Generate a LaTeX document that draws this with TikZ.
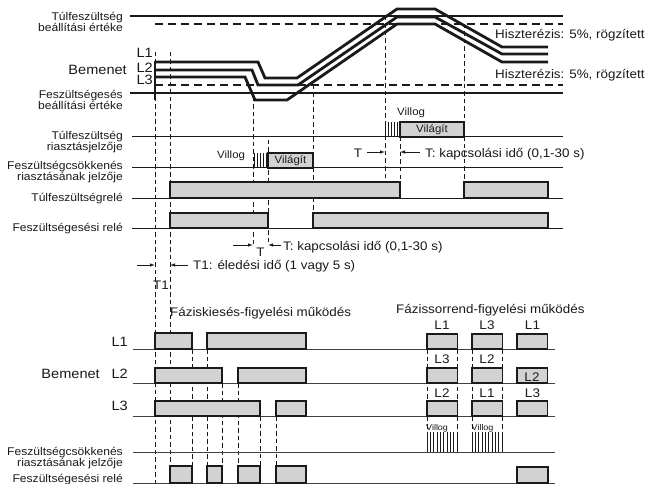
\documentclass[tikz,border=0pt]{standalone}
\usepackage{fontspec}
\setmainfont[FakeStretch=1.08]{Liberation Sans}
\usetikzlibrary{arrows.meta}
\definecolor{boxgray}{HTML}{D2D2D2}
\definecolor{ink}{HTML}{1A1A1A}
\newcommand\fsz[1]{\fontsize{#1}{#1}\selectfont}
\begin{document}
\begin{tikzpicture}[x=1pt,y=-1pt,
  thr/.style={ink, line width=1.8pt},
  thrdash/.style={ink, line width=1.1pt, dash pattern=on 8pt off 5pt},
  inp/.style={ink, line width=2.8pt, line join=miter, miter limit=6},
  vdash/.style={ink, line width=0.7pt, dash pattern=on 4.5pt off 3pt},
  sig/.style={ink, line width=1pt},
  sigb/.style={black!75, line width=0.9pt},
  pulse/.style={draw=ink, fill=boxgray, line width=1.3pt},
  tick/.style={ink, line width=0.8pt},
  lbl/.style={inner sep=0pt, font=\fsz{11.2}, text=ink},
  ann/.style={inner sep=0pt, font=\fsz{12.4}, text=ink},
  big/.style={inner sep=0pt, font=\fsz{13.5}, text=ink},
  colh/.style={inner sep=0pt, font=\fsz{12.5}, text=ink},
  small/.style={inner sep=0pt, font=\fsz{10.6}, text=ink},
  tiny/.style={inner sep=0pt, font=\fsz{8.3}, text=ink},
  arr/.style={ink, line width=0.8pt, -{Latex[length=5pt,width=3.5pt]}},
]
\fill[white] (0,0) rectangle (648,484);
\useasboundingbox (0,0) rectangle (648,484);

% ---------- vertical dashed time markers ----------
\draw[vdash] (155,52) -- (155,484);
\draw[vdash] (170,52) -- (170,483);
\draw[vdash] (253,97) -- (253,245);
\draw[vdash] (268,140) -- (268,245);
\draw[vdash] (313,85) -- (313,213);
\draw[vdash] (385,16) -- (385,182);
\draw[vdash] (400,137) -- (400,182);
\draw[vdash] (464,24) -- (464,182);
\foreach \x in {192,207} \draw[vdash] (\x,349) -- (\x,466);
\foreach \x in {222,238} \draw[vdash] (\x,383) -- (\x,466);
\foreach \x in {260,276} \draw[vdash] (\x,416) -- (\x,466);
\foreach \x in {427,457,472,502} \draw[vdash] (\x,349) -- (\x,452);

% ---------- thresholds ----------
\draw[thr] (130,16) -- (563,16);
\draw[thrdash] (155,24) -- (563,24);
\draw[thrdash] (155,85) -- (563,85);
\draw[thr] (130,93) -- (563,93);

% ---------- input voltages ----------
\draw[inp] (155,62) -- (258,62) -- (265,78) -- (297,78) -- (397,9) -- (435,9) -- (502,47) -- (548,47);
\draw[inp] (155,70) -- (252,70) -- (258,85) -- (298,85) -- (397,17) -- (435,17) -- (502,54) -- (548,54);
\draw[inp] (155,77) -- (245,77) -- (255,100) -- (287,100) -- (397,24) -- (435,24) -- (502,62) -- (548,62);
\draw[inp] (155,60.6) -- (155,100.5);

% ---------- signal lines (upper) ----------
\draw[sig] (132,137) -- (563,137);
\draw[sig] (132,168) -- (563,168);
\draw[sig] (132,198) -- (563,198);
\draw[sig] (132,228) -- (563,228);

% flashing + lit (undervoltage)
\foreach \x in {254,257,260,263,266} \draw[tick] (\x,153) -- (\x,168);
\draw[pulse] (268,168) rectangle (313,153);
\node[small] (vil1) at (290.5,161) {Világít};
\node[small, anchor=base west] (vlg1) at (217,158.3) {Villog};

% flashing + lit (overvoltage)
\foreach \x in {385.5,388.5,391.5,394.5,397.5} \draw[tick] (\x,122) -- (\x,137);
\draw[pulse] (400,137) rectangle (464,122);
\node[small] (vil2) at (432,130) {Világít};
\node[small, anchor=base west] (vlg2) at (397,116) {Villog};

% relays
\draw[pulse] (170,198) rectangle (400,182);
\draw[pulse] (464,198) rectangle (548,182);
\draw[pulse] (170,228) rectangle (268,213);
\draw[pulse] (313,228) rectangle (548,213);

% ---------- arrows ----------
\coordinate (ta1) at (233,245); \coordinate (ta2) at (253,245);
\coordinate (tb1) at (281,245); \coordinate (tb2) at (268,245);
\draw[arr] (ta1) -- (ta2);
\draw[arr] (tb1) -- (tb2);
\coordinate (t1a) at (137,265); \coordinate (t1b) at (155,265);
\coordinate (t1c) at (188,265); \coordinate (t1d) at (170,265);
\draw[arr] (t1a) -- (t1b);
\draw[arr] (t1c) -- (t1d);
\coordinate (tr1) at (367,152); \coordinate (tr2) at (385,152);
\coordinate (tr3) at (420,152); \coordinate (tr4) at (400,152);
\draw[arr] (tr1) -- (tr2);
\draw[arr] (tr3) -- (tr4);

% ---------- labels upper ----------
\node[lbl, anchor=base east] (tul1) at (123,20.7) {Túlfeszültség};
\node[lbl, anchor=base east] (tul2) at (123,31.7) {beállítási értéke};
\node[big, anchor=base east] (bem1) at (127,75) {Bemenet};
\node[big, anchor=base east] (la1) at (153,57.3) {L1};
\node[big, anchor=base east] (la2) at (153,72.5) {L2};
\node[big, anchor=base east] (la3) at (153,85) {L3};
\node[lbl, anchor=base east] (fes1) at (123,98.3) {Feszültségesés};
\node[lbl, anchor=base east] (fes2) at (123,109.3) {beállítási értéke};
\node[ann, anchor=base west] (hy1) at (495,38.7) {Hiszterézis: 5\%, rögzített};
\node[ann, anchor=base west] (hy2) at (495,78.7) {Hiszterézis: 5\%, rögzített};

\node[lbl, anchor=base east] (ta) at (123,140) {Túlfeszültség};
\node[lbl, anchor=base east] (tb) at (123,150.7) {riasztásjelzője};
\node[lbl, anchor=base east] (fa) at (123,170) {Feszültségcsökkenés};
\node[lbl, anchor=base east] (fb) at (123,180.7) {riasztásának jelzője};
\node[lbl, anchor=base east] (tr) at (123,201.5) {Túlfeszültségrelé};
\node[lbl, anchor=base east] (fr) at (123,231) {Feszültségesési relé};

\node[ann, anchor=base] (tlab2) at (358,157.3) {T};
\node[ann, anchor=base west] (ttxt2) at (425,157.3) {T: kapcsolási idő (0,1-30 s)};
\node[ann, anchor=base] (tlab1) at (260.5,256.8) {T};
\node[ann, anchor=base west] (ttxt1) at (283,250) {T: kapcsolási idő (0,1-30 s)};
\node[ann, anchor=base west] (t1txt) at (193,269) {T1: éledési idő (1 vagy 5 s)};
\node[ann, anchor=base] (t1lab) at (161,289) {T1};

% ---------- lower section ----------
\node[ann, anchor=base west] (fki) at (170,316.7) {Fáziskiesés-figyelési működés};
\node[ann, anchor=base west] (fso) at (396,313.3) {Fázissorrend-figyelési működés};

\draw[sigb] (133,349) -- (555,349);
\draw[sigb] (133,383) -- (555,383);
\draw[sigb] (133,416) -- (555,416);
\draw[sigb] (133,452) -- (555,452);
\draw[sigb] (133,483) -- (555,483);

% phase loss
\draw[pulse] (155,349) rectangle (192,333);
\draw[pulse] (207,349) rectangle (306,333);
\draw[pulse] (155,383) rectangle (222,368);
\draw[pulse] (238,383) rectangle (306,368);
\draw[pulse] (155,416) rectangle (260,401);
\draw[pulse] (276,416) rectangle (306,401);
\draw[pulse] (170,483) rectangle (192,466);
\draw[pulse] (207,483) rectangle (222,466);
\draw[pulse] (238,483) rectangle (260,466);
\draw[pulse] (276,483) rectangle (306,466);

% phase sequence
\foreach \x in {427,472,517} {
  \draw[pulse] (\x,349) rectangle (\x+30.5,334);
  \draw[pulse] (\x,383) rectangle (\x+30.5,368);
  \draw[pulse] (\x,416) rectangle (\x+30.5,401);
}
\draw[pulse] (517,483) rectangle (548,467);
\foreach \i in {0,...,9} {
  \draw[tick] (427+\i*3.33,432) -- (427+\i*3.33,452);
  \draw[tick] (472+\i*3.33,432) -- (472+\i*3.33,452);
}
\node[tiny, anchor=base west] (vb1) at (426,430.7) {Villog};
\node[tiny, anchor=base west] (vb2) at (471.5,430.7) {Villog};

\node[colh, anchor=base] (h11) at (442,329.3) {L1};
\node[colh, anchor=base] (h12) at (487,329.3) {L3};
\node[colh, anchor=base] (h13) at (532.5,329.3) {L1};
\node[colh, anchor=base] (h21) at (442,363.3) {L3};
\node[colh, anchor=base] (h22) at (487,363.3) {L2};
\node[colh, anchor=base] (h23) at (532,381) {L2};
\node[colh, anchor=base] (h31) at (442,397.7) {L2};
\node[colh, anchor=base] (h32) at (487,397.7) {L1};
\node[colh, anchor=base] (h33) at (532.5,397.7) {L3};

\node[big, anchor=base east] (lb1) at (128,346) {L1};
\node[big, anchor=base east] (lb2) at (128,378.5) {L2};
\node[big, anchor=base east] (bem2) at (100,378.5) {Bemenet};
\node[big, anchor=base east] (lb3) at (128,410) {L3};
\node[lbl, anchor=base east] (fc1) at (123,455) {Feszültségcsökkenés};
\node[lbl, anchor=base east] (fc2) at (123,466) {riasztásának jelzője};
\node[lbl, anchor=base east] (fr2) at (123,482.5) {Feszültségesési relé};
\end{tikzpicture}
\end{document}
